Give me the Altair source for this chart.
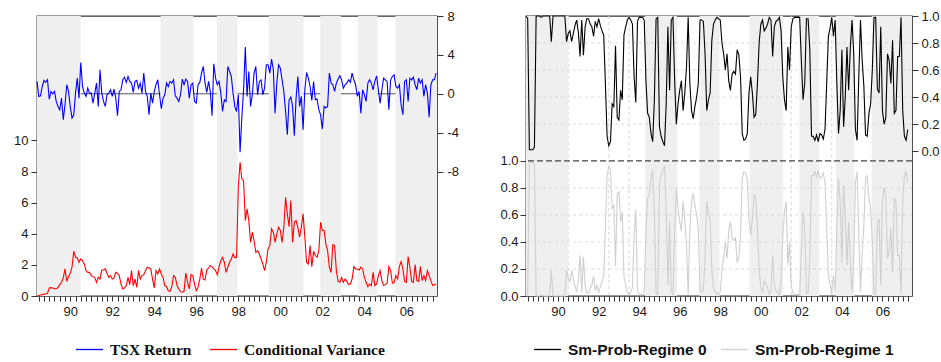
import altair as alt
import pandas as pd

# ---------------- data (monthly, Dec-1988 onwards) ----------------
first_year = 1988
first_month = 12

tsx_return = [
    1.27, -0.27, -0.21, 0.75, 1.37, 1.17, 1.44, -0.55, 0.24, 0.00,
    0.24, -0.79, -1.30, -1.65, -0.45, -2.67, -1.13, 0.93, 0.24, -1.30,
    -2.50, -2.16, 0.07, 1.61, -0.45, 3.22, 0.75, 0.07, -0.27, 0.58,
    0.07, 0.07, -0.96, 0.07, 1.10, -1.30, 2.47, 0.07, -0.79, -1.30,
    -0.10, 0.07, 0.41, -0.27, 0.48, -0.45, -2.26, 0.24,
    0.41, 1.44, 1.71, 1.17, 1.78, 1.27, 1.10, 0.14, 1.27, 1.37,
    0.58, 1.10, 0.07, 2.13, 0.24, -0.27, -2.16, 0.07, -0.96, 0.24,
    0.93, 1.44, -0.10, -1.54, -0.45, -0.10,
    1.10, 0.75, 1.27, 1.10, 1.44, -0.21, -0.45, -0.79, -0.10, 1.51,
    0.93, 1.51, 1.27, -0.45, 0.93, 1.10, -0.79, -0.96, 0.93, 1.17,
    2.13, 2.81, 1.10, 0.14, 1.27, 0.24, -2.26, 3.09, 1.61,
    0.93, 1.27, 0.07, -1.82, -0.62, -0.79, 2.81, 2.30, 1.78, 0.07, -1.30, -1.82, -0.10,
    -6.00, -2.50, 0.40, 4.80,
    -0.27, 2.30, -1.30, -0.10, 2.13, 2.81, -0.10, 1.27, 1.44, -0.10,
    0.58, 2.98, 2.98, 2.13, 3.57, 2.47, -1.99, 1.10, 2.98, 2.64,
    1.44, 0.24, -1.82, -4.22, -0.62, -0.34, -1.30, -4.32, -0.45, 1.78,
    -1.30, -0.27, -3.70, 0.41, 2.19, 1.61, 0.75, -0.69, 1.27, -0.62,
    -0.55, -1.65, -2.16, -3.63, -1.30, -1.47, -1.30, 2.13, 1.10, 0.93,
    0.24, 1.10, 1.51, 1.85, 1.44, 0.58, 0.93, 1.10, 1.44, 1.17,
    2.13, 1.44, 0.93, -0.27, 0.24, -1.99, 0.41, -0.10, -0.79, 1.10,
    1.44, 1.10, 0.41, 1.27, 1.85, 0.41, -0.96, 0.41, 1.61, 1.44,
    1.27, -1.65, 1.44, 1.78, 1.95, 0.75, 0.58, 0.93, -1.13, -2.16,
    1.27, 1.44, -0.79, 1.61, 1.44, 1.71, 0.93, 0.41, 1.61, 1.10,
    1.44, -0.27, 0.93, 0.07, -2.40, 0.93, 1.44, 1.44, 2.13,
]

conditional_variance = [
    0.02,
    0.02, 0.06, 0.09, 0.13, 0.13, 0.17, 0.52, 0.54, 0.52, 0.47, 0.47, 0.54, 0.73, 0.88, 1.16, 1.74, 0.94,
    1.24, 1.46, 1.85,
    2.88, 2.49, 2.45, 2.17, 2.38, 2.27, 2.06, 1.63, 1.52, 1.52, 1.31, 1.24, 1.20, 0.88, 1.20, 1.09, 1.67,
    1.67, 1.74, 1.46, 1.20, 1.31, 1.09, 1.16, 1.52, 1.46, 1.31, 0.77, 0.45, 0.52,
    0.67, 1.20, 0.73, 1.63, 0.67, 1.09, 0.56, 1.63, 1.09, 1.31, 1.37, 1.63, 1.85, 1.80, 1.74, 1.09,
    0.52, 1.63, 1.42, 1.74, 1.42, 1.20, 0.67, 0.60,
    0.34, 0.30, 0.60, 1.31, 1.20, 0.67, 0.45,
    0.28, 0.24, 0.30, 1.48, 0.88, 0.45, 1.37, 1.31, 0.77, 0.34, 0.56, 1.09, 1.80, 1.09, 1.03, 1.67,
    1.80, 1.95, 1.89, 1.74,
    1.63, 1.37, 1.85, 2.27, 2.49, 2.17, 1.52,
    1.85, 2.17, 2.38, 2.70, 2.45, 2.49,
    7.00, 8.60, 7.53, 7.42,
    4.85, 5.60, 4.85, 3.45, 4.10, 3.56, 2.81, 2.92, 2.70, 2.38, 2.06, 1.63, 2.17, 3.03, 3.24, 4.31, 4.10,
    3.45, 3.99, 4.42, 4.21, 3.45, 4.42, 6.35, 5.28, 4.46,
    6.14, 3.45, 4.74, 4.85, 4.42, 3.78, 4.42, 5.28, 3.78, 2.17, 2.06, 3.24, 1.89, 2.88, 2.60, 2.49,
    2.92, 4.74, 4.21, 4.21, 3.35, 2.92, 1.85, 1.52, 3.30, 3.24, 1.63, 0.94, 0.88, 1.20, 0.88,
    1.09, 0.94, 0.73, 0.77, 1.09, 1.89, 1.74, 1.74, 1.67, 1.85, 1.74, 1.20, 0.88, 0.60, 0.77, 0.67,
    1.52, 0.67, 0.77, 1.31, 1.63, 0.99, 0.67,
    0.73, 0.82, 1.89, 1.63, 0.82, 0.88, 1.31, 1.09, 1.89, 2.21, 1.74, 0.94, 0.88, 2.53, 1.85, 0.94,
    0.88, 2.02, 0.99, 0.94, 1.89, 0.99, 1.31, 0.99, 1.63, 1.31, 0.99, 0.67, 0.73, 0.77,
]

sm_prob_regime0 = [
    1.00, 0.98, 0.01, 0.01, 0.01, 0.03, 1.00, 1.00, 1.00, 0.99, 1.00, 1.00, 1.00, 1.00, 1.00, 0.81,
    1.00, 1.00, 1.00, 1.00, 1.00, 1.00, 1.00, 1.00,
    0.81, 0.87,
    0.89, 0.81, 0.87, 0.93, 0.97, 0.88, 0.70, 0.97, 0.71, 0.92, 0.98, 0.98, 0.94, 0.92, 0.85, 0.96,
    0.92, 0.98, 0.93, 0.89, 0.86, 0.50, 0.11, 0.04,
    0.07, 0.35, 0.33, 0.78, 0.25, 0.23, 0.45, 0.38, 0.86, 0.92, 0.97, 0.99, 0.97, 0.94, 0.55, 0.36,
    0.96, 0.99, 0.99, 0.99, 0.97, 0.52, 0.28, 0.25, 0.13, 0.07, 0.38, 0.98, 0.99, 0.18, 0.11, 0.07,
    0.04, 0.35, 0.92, 0.45,
    0.97, 0.99, 0.52, 0.20, 0.35, 0.45, 0.52, 0.30, 0.43, 0.62, 0.99, 0.50, 0.30, 0.24, 0.33, 0.40,
    0.50, 0.97, 0.97, 0.96, 0.72, 0.30, 0.38, 0.43, 0.82, 0.94, 0.97, 0.99,
    0.98, 0.97, 0.80, 0.72, 0.60, 0.72, 0.52, 0.45, 0.57, 0.59, 0.57, 0.75, 0.71, 0.55, 0.13, 0.08,
    0.09, 0.13, 0.43, 0.55, 0.43, 0.25, 0.27, 0.50, 0.80, 0.94, 0.97, 0.89, 0.91, 0.94, 0.99, 0.97,
    0.70, 0.92, 0.96, 0.97, 0.99, 0.89, 0.55, 0.38, 0.30, 0.77, 0.60, 0.92, 0.98, 0.99, 0.99,
    0.99, 0.99, 0.67, 0.38, 0.50, 0.98, 0.98, 0.75, 0.11, 0.11, 0.08, 0.12, 0.07, 0.13, 0.12, 0.09,
    0.16, 0.50, 0.85, 0.91, 0.99, 0.85, 0.97, 0.50, 0.13, 0.30, 0.75, 0.18, 0.40, 0.77, 0.45, 0.77,
    0.97, 0.72, 0.16, 0.08, 0.55, 0.97, 0.67, 0.48, 0.12, 0.11, 0.28, 0.35, 0.60, 0.99, 0.99, 0.46,
    0.43, 0.92, 0.30, 0.20, 0.25, 0.72, 0.67, 0.50, 0.82, 0.28, 0.30, 0.70, 0.70, 0.99, 0.30, 0.11,
    0.08, 0.16,
]

sm_prob_regime1 = [
    0.00, 0.02, 0.99, 0.99, 0.99, 0.97, 0.00, 0.00, 0.00, 0.01, 0.00, 0.00, 0.00, 0.00, 0.00, 0.19,
    0.00, 0.00, 0.00, 0.00, 0.00, 0.00, 0.00, 0.00,
    0.19, 0.13,
    0.11, 0.19, 0.13, 0.07, 0.03, 0.12, 0.30, 0.03, 0.29, 0.08, 0.02, 0.02, 0.06, 0.08, 0.15, 0.04,
    0.08, 0.02, 0.07, 0.11, 0.14, 0.50, 0.89, 0.96,
    0.93, 0.65, 0.67, 0.22, 0.75, 0.77, 0.55, 0.62, 0.14, 0.08, 0.03, 0.01, 0.03, 0.06, 0.45, 0.64,
    0.04, 0.01, 0.01, 0.01, 0.03, 0.48, 0.72, 0.75, 0.87, 0.93, 0.62, 0.02, 0.01, 0.82, 0.89, 0.93,
    0.96, 0.65, 0.08, 0.55,
    0.03, 0.01, 0.48, 0.80, 0.65, 0.55, 0.48, 0.70, 0.57, 0.38, 0.01, 0.50, 0.70, 0.76, 0.67, 0.60,
    0.50, 0.03, 0.03, 0.04, 0.28, 0.70, 0.62, 0.57, 0.18, 0.06, 0.03, 0.01,
    0.02, 0.03, 0.20, 0.28, 0.40, 0.28, 0.48, 0.55, 0.43, 0.41, 0.43, 0.25, 0.29, 0.45, 0.87, 0.92,
    0.91, 0.87, 0.57, 0.45, 0.57, 0.75, 0.73, 0.50, 0.20, 0.06, 0.03, 0.11, 0.09, 0.06, 0.01, 0.03,
    0.30, 0.08, 0.04, 0.03, 0.01, 0.11, 0.45, 0.62, 0.70, 0.23, 0.40, 0.08, 0.02, 0.01, 0.01,
    0.01, 0.01, 0.33, 0.62, 0.50, 0.02, 0.02, 0.25, 0.89, 0.89, 0.92, 0.88, 0.93, 0.87, 0.88, 0.91,
    0.84, 0.50, 0.15, 0.09, 0.01, 0.15, 0.03, 0.50, 0.87, 0.70, 0.25, 0.82, 0.60, 0.23, 0.55, 0.23,
    0.03, 0.28, 0.84, 0.92, 0.45, 0.03, 0.33, 0.52, 0.88, 0.89, 0.72, 0.65, 0.40, 0.01, 0.01, 0.54,
    0.57, 0.08, 0.70, 0.80, 0.75, 0.28, 0.33, 0.50, 0.18, 0.72, 0.70, 0.30, 0.30, 0.01, 0.70, 0.89,
    0.92, 0.84,
]

# shaded periods (fractional years)
shade_start = [1988.917, 1994.80, 1997.48, 1999.95, 2002.40, 2004.20, 2005.98]
shade_end = [1991.00, 1996.36, 1998.46, 2001.60, 2003.38, 2005.12, 2007.958]

# x-axis labels (placed mid-year)
label_years = [1990, 1992, 1994, 1996, 1998, 2000, 2002, 2004, 2006]
year_labels = ["90", "92", "94", "96", "98", "00", "02", "04", "06"]

# right panel grid
vgrid_years = [1991, 1993, 1994, 2000, 2002, 2004, 2006]
prob_grid = [0.2, 0.4, 0.6, 0.8]
zero_level = [0]
separator_level = [1.0]

cv_ticks = [0, 2, 4, 6, 8, 10]
tsx_ticks = [-8, -4, 0, 4, 8]
prob_ticks = [0.0, 0.2, 0.4, 0.6, 0.8, 1.0]

X_DOMAIN = [1988.917, 2007.958]
TSX_DOMAIN = [-20.8, 8]
CV_DOMAIN = [0, 18]
R0_DOMAIN = [-1.072, 1.0]
R1_DOMAIN = [0.0, 2.072]


def month_index(n):
    return [first_year + (first_month - 1 + k) / 12.0 for k in range(n)]


def frame(values, name):
    return pd.DataFrame({"t": month_index(len(values)), "v": values, "series": name})


tsx_df = frame(tsx_return, "TSX Return")
cv_df = frame(conditional_variance, "Conditional Variance")
r0_df = frame(sm_prob_regime0, "Sm-Prob-Regime 0")
r1_df = frame(sm_prob_regime1, "Sm-Prob-Regime 1")
shade_df = pd.DataFrame({"start": shade_start, "end": shade_end})

quarter_ticks = [1989 + 0.25 * k for k in range(76)]
label_expr = " : ".join(
    f"datum.value == {y + 0.5} ? '{lab}'" for y, lab in zip(label_years, year_labels)
) + " : ''"

x_scale = alt.Scale(domain=X_DOMAIN, nice=False, zero=False)
x_axis = alt.Axis(
    values=quarter_ticks, labelExpr=label_expr, tickSize=5, labelPadding=4,
    domain=False, grid=False, labelOverlap=False, labelFlush=False,
    title=None, labelAngle=0, orient="bottom",
)


def xq(field):
    return alt.X(f"{field}:Q", scale=x_scale, axis=x_axis, title=None)


def hidden_y(field, domain):
    return alt.Y(f"{field}:Q", scale=alt.Scale(domain=domain, nice=False, zero=False), axis=None)


def shade_layer():
    return alt.Chart(shade_df).mark_rect(color="#efefef").encode(
        x=xq("start"), x2="end:Q"
    )


# ---------------- left panel ----------------
legend_left = alt.Legend(
    orient="none", legendX=38, legendY=319, direction="horizontal", title=None,
    symbolType="stroke", symbolSize=729, symbolStrokeWidth=1.3, labelFont="Liberation Serif",
    labelFontWeight="bold", labelFontSize=15.5, labelColor="#111111", columnPadding=15,
    labelOffset=6, padding=0,
)
color_left = alt.Color(
    "series:N",
    scale=alt.Scale(domain=["TSX Return", "Conditional Variance"], range=["#0000ff", "#ff0000"]),
    legend=legend_left,
)

# zero line is drawn first so that the shaded periods cover it
zero_rule = alt.Chart(pd.DataFrame({"level": zero_level})).mark_rule(
    color="#555555", strokeWidth=1
).encode(y=hidden_y("level", TSX_DOMAIN))

tsx_line = alt.Chart(tsx_df).mark_line(strokeWidth=1.1).encode(
    x=xq("t"),
    y=alt.Y("v:Q", scale=alt.Scale(domain=TSX_DOMAIN, nice=False, zero=False),
            axis=alt.Axis(orient="right", values=tsx_ticks, tickSize=6, labelPadding=4,
                          labelExpr="'' + datum.value",
                          domain=False, grid=False, title=None)),
    color=color_left,
)

cv_line = alt.Chart(cv_df).mark_line(strokeWidth=1.1).encode(
    x=xq("t"),
    y=alt.Y("v:Q", scale=alt.Scale(domain=CV_DOMAIN, nice=False, zero=False),
            axis=alt.Axis(orient="left", values=cv_ticks, tickSize=6, labelPadding=3,
                          domain=False, grid=False, title=None)),
    color=color_left,
)

left = alt.layer(zero_rule, shade_layer(), tsx_line, cv_line).resolve_scale(
    y="independent"
).properties(width=400, height=280)

# ---------------- right panel ----------------
legend_right = alt.Legend(
    orient="none", legendX=7, legendY=319, direction="horizontal", title=None,
    symbolType="stroke", symbolSize=729, symbolStrokeWidth=1.3, labelFont="Liberation Sans",
    labelFontWeight="bold", labelFontSize=15.5, labelColor="#111111", columnPadding=11,
    labelOffset=6, padding=0,
)
color_right = alt.Color(
    "series:N",
    scale=alt.Scale(domain=["Sm-Prob-Regime 0", "Sm-Prob-Regime 1"], range=["#000000", "#cfcfcf"]),
    legend=legend_right,
)

vgrid = alt.Chart(pd.DataFrame({"year": vgrid_years})).mark_rule(
    color="#d6d6d6", strokeDash=[3, 3], strokeWidth=1
).encode(x=xq("year"))

hgrid_top = alt.Chart(pd.DataFrame({"p": prob_grid})).mark_rule(
    color="#dadada", strokeDash=[3, 3], strokeWidth=1
).encode(y=hidden_y("p", R0_DOMAIN))

hgrid_bottom = alt.Chart(pd.DataFrame({"p": prob_grid})).mark_rule(
    color="#dadada", strokeDash=[3, 3], strokeWidth=1
).encode(y=hidden_y("p", R1_DOMAIN))

r1_line = alt.Chart(r1_df).mark_line(strokeWidth=1.1).encode(
    x=xq("t"),
    y=alt.Y("v:Q", scale=alt.Scale(domain=R1_DOMAIN, nice=False, zero=False),
            axis=alt.Axis(orient="left", values=prob_ticks, format=".1f", tickSize=6,
                          labelPadding=2, domain=False, grid=False, title=None)),
    color=color_right,
)

separator = alt.Chart(pd.DataFrame({"p": separator_level})).mark_rule(
    color="#444444", strokeDash=[6, 3], strokeWidth=1.2
).encode(y=hidden_y("p", R1_DOMAIN))

r0_line = alt.Chart(r0_df).mark_line(strokeWidth=1.1).encode(
    x=xq("t"),
    y=alt.Y("v:Q", scale=alt.Scale(domain=R0_DOMAIN, nice=False, zero=False),
            axis=alt.Axis(orient="right", values=prob_ticks, format=".1f", tickSize=6,
                          labelPadding=3, domain=False, grid=False, title=None)),
    color=color_right,
)

right = alt.layer(
    vgrid, shade_layer(), hgrid_top, hgrid_bottom, r1_line, separator, r0_line
).resolve_scale(y="independent").properties(width=386, height=280)

chart = alt.hconcat(left, right, spacing=39).resolve_scale(color="independent").properties(
    padding={"left": 12, "top": 9, "right": 0, "bottom": 0},
    background="white",
).configure_view(
    stroke="#333333", strokeWidth=1.3
).configure_axis(
    labelFont="Liberation Sans", labelFontSize=13, labelColor="#1a1a1a",
    tickColor="#333333", tickWidth=1,
)

chart.save("out.html", embed_options={"renderer": "svg", "actions": False})
